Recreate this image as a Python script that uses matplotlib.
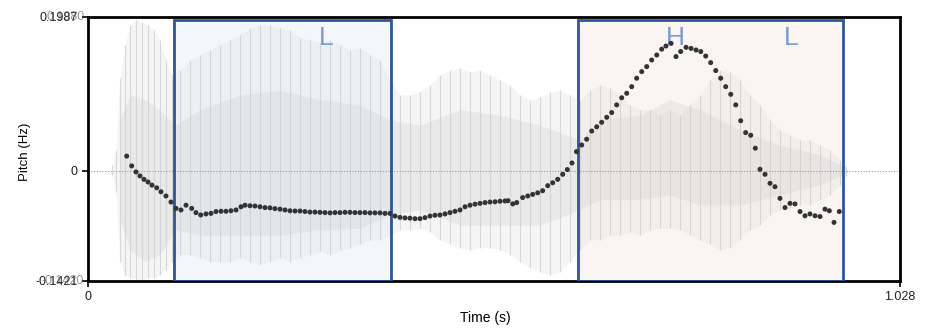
import numpy as np
import matplotlib.pyplot as plt

plt.rcParams['font.family'] = ['Liberation Sans', 'DejaVu Sans']

# waveform envelope (s, amplitude)
wave_t = [0.0304, 0.0354, 0.0405, 0.0468, 0.0532, 0.0608, 0.0684, 0.0760, 0.0836, 0.0912,
          0.0987, 0.1063, 0.1165, 0.1291, 0.1418, 0.1545, 0.1671, 0.1798, 0.1924, 0.2051,
          0.2178, 0.2304, 0.2431, 0.2557, 0.2684, 0.2810, 0.2937, 0.3064, 0.3190, 0.3317,
          0.3443, 0.3570, 0.3697, 0.3823, 0.3950, 0.4076, 0.4203, 0.4330, 0.4456, 0.4583,
          0.4710, 0.4836, 0.4963, 0.5089, 0.5216, 0.5342, 0.5469, 0.5596, 0.5722, 0.5849,
          0.5975, 0.6102, 0.6229, 0.6355, 0.6482, 0.6608, 0.6735, 0.6862, 0.6988, 0.7115,
          0.7241, 0.7368, 0.7495, 0.7621, 0.7748, 0.7874, 0.8001, 0.8128, 0.8254, 0.8381,
          0.8507, 0.8634, 0.8760, 0.8887, 0.9014, 0.9140, 0.9267, 0.9393, 0.9520, 0.9596]
wave_top = [0.008, 0.027, 0.120, 0.163, 0.188, 0.195, 0.192, 0.188, 0.182, 0.169,
            0.143, 0.124, 0.130, 0.143, 0.150, 0.156, 0.163, 0.169, 0.176, 0.184,
            0.188, 0.188, 0.184, 0.182, 0.172, 0.169, 0.166, 0.169, 0.163, 0.156,
            0.159, 0.150, 0.143, 0.117, 0.098, 0.098, 0.102, 0.111, 0.124, 0.130,
            0.133, 0.128, 0.130, 0.124, 0.117, 0.111, 0.098, 0.092, 0.095, 0.102,
            0.104, 0.098, 0.092, 0.104, 0.111, 0.107, 0.098, 0.085, 0.079, 0.079,
            0.072, 0.079, 0.072, 0.085, 0.098, 0.117, 0.130, 0.128, 0.117, 0.098,
            0.085, 0.066, 0.053, 0.046, 0.040, 0.040, 0.034, 0.027, 0.014, 0.006]
wave_bot = [-0.005, -0.027, -0.117, -0.134, -0.138, -0.141, -0.141, -0.138, -0.138, -0.134,
            -0.128, -0.117, -0.108, -0.108, -0.112, -0.117, -0.117, -0.117, -0.112, -0.117,
            -0.121, -0.117, -0.112, -0.117, -0.112, -0.108, -0.104, -0.108, -0.102, -0.099,
            -0.095, -0.089, -0.089, -0.083, -0.076, -0.076, -0.074, -0.079, -0.089, -0.095,
            -0.099, -0.102, -0.099, -0.099, -0.102, -0.108, -0.117, -0.125, -0.130, -0.134,
            -0.130, -0.117, -0.102, -0.089, -0.089, -0.083, -0.083, -0.079, -0.083, -0.076,
            -0.074, -0.074, -0.076, -0.083, -0.089, -0.095, -0.102, -0.099, -0.089, -0.076,
            -0.070, -0.057, -0.050, -0.048, -0.044, -0.044, -0.037, -0.031, -0.018, -0.006]

# denser core of the waveform
core_t = [0.0405, 0.0532, 0.0722, 0.0912, 0.1101, 0.1418, 0.1924, 0.2431, 0.2937, 0.3443,
          0.3823, 0.4203, 0.4710, 0.5216, 0.5722, 0.6229, 0.6482, 0.6988, 0.7368, 0.7748,
          0.8254, 0.8760, 0.9267, 0.9596]
core_top = [0.066, 0.098, 0.092, 0.079, 0.059, 0.079, 0.098, 0.104, 0.092, 0.085,
            0.066, 0.059, 0.079, 0.072, 0.059, 0.040, 0.066, 0.072, 0.092, 0.079,
            0.053, 0.033, 0.021, 0.004]
core_bot = [-0.063, -0.102, -0.117, -0.108, -0.076, -0.083, -0.083, -0.083, -0.076, -0.074,
            -0.057, -0.050, -0.070, -0.070, -0.070, -0.050, -0.037, -0.037, -0.031, -0.044,
            -0.044, -0.031, -0.018, -0.003]

# pitch track (s, Hz)
pitch_t = [0.049, 0.0553, 0.0608, 0.0658, 0.0709, 0.0760, 0.0810, 0.0870, 0.0924, 0.0987,
           0.1051, 0.1114, 0.1177, 0.1241, 0.1313, 0.1367, 0.1427, 0.1494, 0.1557, 0.1620,
           0.1684, 0.1747, 0.1810, 0.1874, 0.1937, 0.1988, 0.2051, 0.2114, 0.2178, 0.2241,
           0.2304, 0.2367, 0.2431, 0.2494, 0.2557, 0.2621, 0.2684, 0.2747, 0.2810, 0.2874,
           0.2937, 0.3000, 0.3064, 0.3127, 0.3190, 0.3254, 0.3317, 0.3380, 0.3443, 0.3507,
           0.3570, 0.3633, 0.3697, 0.3760, 0.3823, 0.3887, 0.3950, 0.4013, 0.4076, 0.4140,
           0.4203, 0.4266, 0.4330, 0.4393, 0.4456, 0.4520, 0.4583, 0.4646, 0.4710, 0.4773,
           0.4836, 0.4900, 0.4963, 0.5026, 0.5089, 0.5153, 0.5216, 0.5279, 0.5317, 0.5377,
           0.5427, 0.5503, 0.5567, 0.5630, 0.5693, 0.5756, 0.5820, 0.5883, 0.5946, 0.6010,
           0.6068, 0.6127, 0.6184, 0.6250, 0.6313, 0.6377, 0.6440, 0.6503, 0.6567, 0.6630,
           0.6693, 0.6757, 0.6820, 0.6883, 0.6946, 0.7010, 0.7073, 0.7136, 0.7200, 0.7263,
           0.7317, 0.7381, 0.7444, 0.7503, 0.7571, 0.7634, 0.7697, 0.7757, 0.7820, 0.7883,
           0.7947, 0.8010, 0.8073, 0.8137, 0.8200, 0.8263, 0.8326, 0.8390, 0.8448, 0.8507,
           0.8571, 0.8634, 0.8697, 0.8760, 0.8824, 0.8887, 0.8950, 0.9014, 0.9077, 0.9140,
           0.9204, 0.9267, 0.9330, 0.9385, 0.9444, 0.9511]
pitch_hz = [147.3, 143.6, 141.3, 139.8, 138.5, 137.5, 136.3, 135.3, 133.8, 132.2,
            129.9, 127.5, 126.9, 128.7, 127.5, 125.9, 125.0, 125.4, 125.6, 126.3,
            126.4, 126.4, 126.6, 126.9, 128.1, 128.7, 128.5, 128.4, 128.1, 127.8,
            127.7, 127.4, 127.2, 126.9, 126.6, 126.5, 126.5, 126.3, 126.1, 126.1,
            126.0, 125.9, 125.8, 125.9, 125.9, 126.0, 126.0, 125.9, 125.9, 125.9,
            125.8, 125.8, 125.8, 125.6, 125.6, 124.6, 124.1, 123.9, 123.8, 123.6,
            123.6, 124.0, 124.6, 124.9, 125.0, 125.4, 125.9, 126.4, 126.9, 128.1,
            128.7, 129.1, 129.4, 129.7, 129.9, 130.0, 130.2, 130.3, 130.4, 129.2,
            129.7, 131.6, 132.2, 132.8, 133.4, 134.2, 136.1, 137.2, 138.5, 140.4,
            142.2, 144.7, 149.0, 151.5, 153.7, 156.8, 158.4, 160.1, 162.0, 163.8,
            166.7, 169.4, 171.1, 173.6, 176.8, 179.3, 181.2, 183.7, 185.6, 187.8,
            189.0, 190.0, 185.0, 186.9, 188.5, 188.1, 187.5, 186.9, 185.2, 182.7,
            179.7, 176.8, 173.6, 170.7, 166.7, 160.7, 156.2, 155.2, 150.3, 142.3,
            140.4, 137.0, 135.7, 131.3, 127.8, 129.4, 129.2, 126.3, 124.7, 125.4,
            124.7, 124.4, 127.2, 126.6, 122.2, 126.3]

# annotated intervals
boxes = [(0.1089, 0.3836, '#f3f7fc'), (0.6203, 0.9558, '#faf5f0')]
tones = ['L', 'H', 'L']
tone_t = [0.3013, 0.7431, 0.890]

t_max = 1.028
amp_min, amp_max = -0.1421, 0.1987
edge_blue = '#2f5597'

fig = plt.figure(figsize=(9.35, 3.31), dpi=100)
ax = fig.add_axes([0.0941, 0.1511, 0.8685, 0.7976])

for x0, x1, fc in boxes:
    ax.axvspan(x0, x1, ymin=0, ymax=0.99, facecolor=fc, edgecolor='none', zorder=0)

ax.fill_between(wave_t, wave_bot, wave_top, color='#e4e4e4', alpha=0.35, lw=0, zorder=1)
ax.fill_between(core_t, core_bot, core_top, color='#cfcfcf', alpha=0.3, lw=0, zorder=1)
ax.vlines(wave_t, wave_bot, wave_top, color='#cccccc', lw=0.8, alpha=0.7, zorder=1)
ax.axhline(0, color='#9a9a9a', lw=0.8, ls=(0, (1, 1.5)), zorder=2)

for x0, x1, fc in boxes:
    ax.axvspan(x0, x1, ymin=0, ymax=0.99, facecolor='none', edgecolor=edge_blue, lw=2, zorder=3)

for lab, tt in zip(tones, tone_t):
    ax.text(tt, 0.172, lab, color='#7a9bd6', fontsize=19, ha='center', va='center', zorder=4)

ax.set_xlim(0, t_max)
ax.set_ylim(amp_min, amp_max)
ax.set_xticks([0, t_max])
ax.set_xticklabels(['0', '1.028'])
ax.set_yticks([amp_min, 0, amp_max])
ax.set_yticklabels(['-0.1421', '0', '0.1987'])
ax.tick_params(labelsize=9, length=4, width=1.2, color='black', labelcolor='#222222')
for s in ax.spines.values():
    s.set_linewidth(2)
    s.set_color('black')

# second set of labels printed on top of the amplitude ones
ax.text(-0.0045, amp_max, '0.1980', transform=ax.get_yaxis_transform(), ha='right', va='center',
        fontsize=9, color='#444444', alpha=0.55)
ax.text(-0.0045, amp_min, '-0.1420', transform=ax.get_yaxis_transform(), ha='right', va='center',
        fontsize=9, color='#444444', alpha=0.55)

ax2 = ax.twinx()
ax2.set_ylim(100, 200)
ax2.set_yticks([])
for s in ax2.spines.values():
    s.set_visible(False)
ax2.scatter(pitch_t, pitch_hz, s=13, color='#333333', edgecolors='none', zorder=5)

fig.text(0.027, 0.54, 'Pitch (Hz)', rotation=90, ha='center', va='center', fontsize=9.5)
fig.text(0.519, 0.04, 'Time (s)', ha='center', va='center', fontsize=10)

fig.savefig('out.png', dpi=100)
